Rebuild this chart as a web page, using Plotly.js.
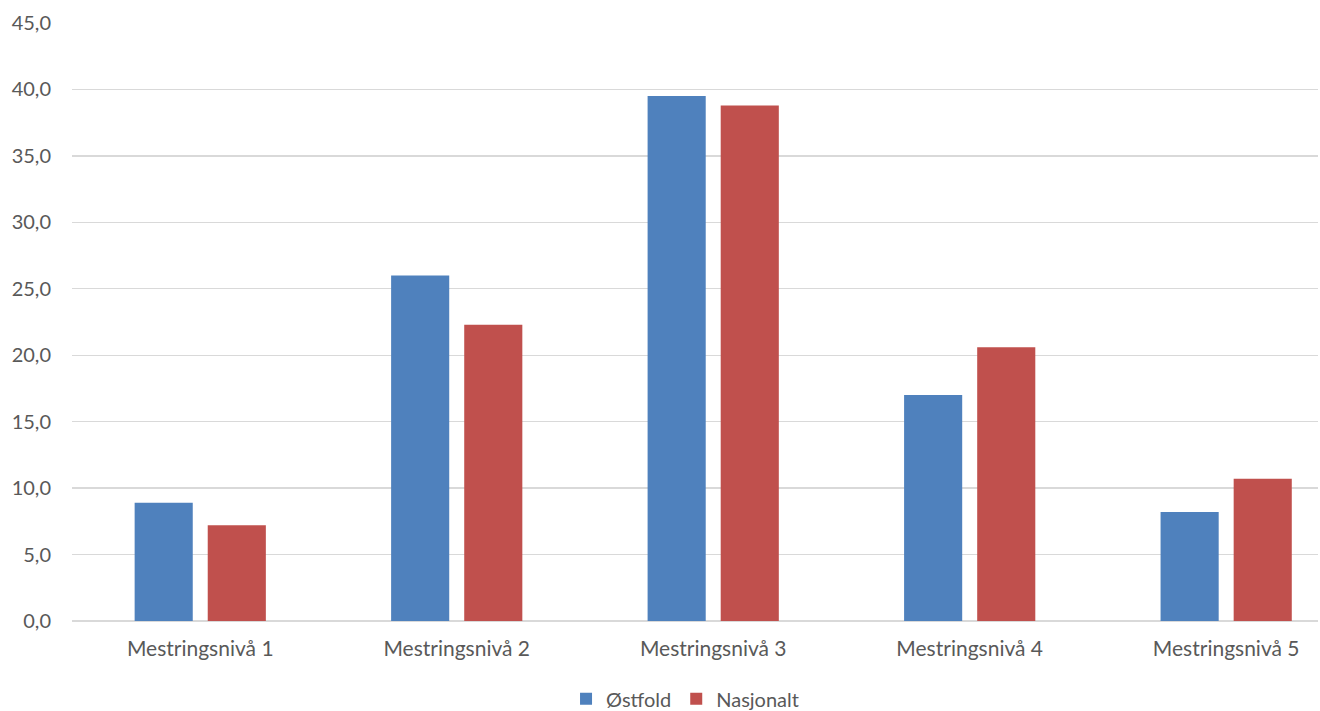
<!DOCTYPE html>
<html><head><meta charset="utf-8">
<script src="https://cdn.plot.ly/plotly-3.0.1.min.js"></script>
<style>html,body{margin:0;padding:0;background:#fff}#c{width:1320px;height:711px}</style>
</head><body><div id="c"></div>
<script>
var categories = ["Mestringsnivå 1","Mestringsnivå 2","Mestringsnivå 3","Mestringsnivå 4","Mestringsnivå 5"];
var ostfold = [8.9, 26.0, 39.5, 17.0, 8.2];
var nasjonalt = [7.2, 22.3, 38.8, 20.6, 10.7];
var yTicks = [0,5,10,15,20,25,30,35,40,45];
var yTickLabels = yTicks.map(function(v){return v.toFixed(1).replace('.', ',');});

var font = {family: "Lato, 'Open Sans', sans-serif", size: 20, color: "#595959"};
var xfont = {family: "Lato, 'Open Sans', sans-serif", size: 21, color: "#595959"};
var data = [
  {type:"bar", name:"Østfold", x:categories, y:ostfold, marker:{color:"#4F81BD"}, hoverinfo:"none"},
  {type:"bar", name:"Nasjonalt", x:categories, y:nasjonalt, marker:{color:"#C0504D"}, hoverinfo:"none"}
];
var layout = {
  width:1320, height:711,
  margin:{l:72, r:2, t:23, b:90, autoexpand:false},
  paper_bgcolor:"#fff", plot_bgcolor:"#fff",
  font: font,
  barmode:"group", bargap:0.43, bargroupgap:0.205,
  showlegend:true,
  legend:{orientation:"h", x:0.492, xanchor:"center", y:-0.13, yanchor:"middle", font:font, itemwidth:30, traceorder:"normal"},
  xaxis:{range:[-0.5, 4.358], showgrid:false, zeroline:false, showline:false, ticks:"", tickfont:xfont, ticklabelstandoff:13},
  yaxis:{range:[0,45], tickvals:yTicks, ticktext:yTickLabels, showgrid:true, gridcolor:"#D9D9D9", gridwidth:1.3,
         zeroline:true, zerolinecolor:"#D9D9D9", zerolinewidth:1.3, showline:false, ticks:"", tickfont:font, ticklabelstandoff:20, fixedrange:true}
};
Plotly.newPlot("c", data, layout, {displayModeBar:false, staticPlot:true});
</script></body></html>
